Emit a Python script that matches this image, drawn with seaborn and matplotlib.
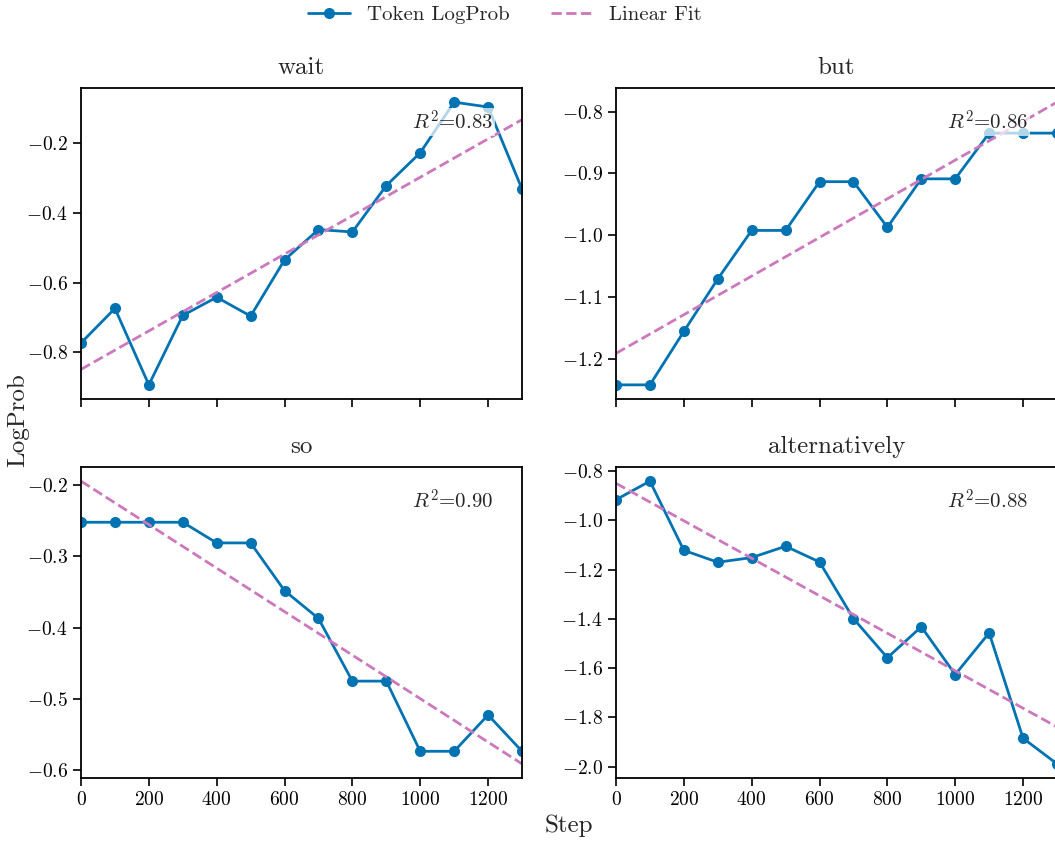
import matplotlib
matplotlib.use("Agg")
import matplotlib.pyplot as plt
import numpy as np
import pandas as pd
import seaborn as sns

STEPS = [0, 100, 200, 300, 400, 500, 600, 700, 800, 900, 1000, 1100, 1200, 1300]

WAIT = [-0.773, -0.674, -0.893, -0.694, -0.642, -0.696, -0.535, -0.448,
        -0.455, -0.322, -0.228, -0.083, -0.097, -0.332]
BUT = [-1.2425, -1.2425, -1.156, -1.071, -0.9925, -0.9925, -0.9136, -0.9136,
       -0.9875, -0.909, -0.909, -0.835, -0.835, -0.835]
SO = [-0.252, -0.252, -0.252, -0.252, -0.281, -0.281, -0.348, -0.387,
      -0.475, -0.475, -0.5735, -0.5735, -0.5225, -0.5735]
ALTERNATIVELY = [-0.916, -0.8405, -1.1216, -1.170, -1.151, -1.105, -1.169, -1.399,
                 -1.558, -1.432, -1.626, -1.457, -1.885, -1.989]

TOKENS = ["wait", "but", "so", "alternatively"]
R2_LABELS = ["0.83", "0.86", "0.90", "0.88"]

BLUE = "#0173B2"
PINK = "#CC78BC"

sns.set_theme(style="ticks")
plt.rcParams.update({
    "font.family": "serif",
    "font.serif": ["cmr10", "DejaVu Serif"],
    "mathtext.fontset": "cm",
    "axes.formatter.use_mathtext": True,
    "axes.edgecolor": "black",
    "axes.linewidth": 1.3,
    "xtick.color": "black",
    "ytick.color": "black",
    "xtick.major.size": 6,
    "ytick.major.size": 6,
    "xtick.major.width": 1.2,
    "ytick.major.width": 1.2,
    "xtick.labelsize": 14,
    "ytick.labelsize": 14,
})

fig = plt.figure(figsize=(10.55, 8.41), dpi=100)
W, H = 1055, 841
boxes = [(81, 88), (616, 88), (81, 467), (616, 467)]
axes = []
for i, (x0, y0) in enumerate(boxes):
    rect = [x0 / W, 1 - (y0 + 311) / H, 441 / W, 311 / H]
    if i == 0:
        ax = fig.add_axes(rect)
    else:
        ax = fig.add_axes(rect, sharex=axes[0])
    axes.append(ax)

series = [WAIT, BUT, SO, ALTERNATIVELY]
for ax, token, vals, r2 in zip(axes, TOKENS, series, R2_LABELS):
    df = pd.DataFrame({"step": STEPS, "logprob": vals})
    slope, intercept = np.polyfit(df["step"], df["logprob"], 1)
    df["fit"] = slope * df["step"] + intercept

    sns.lineplot(data=df, x="step", y="logprob", ax=ax, color=BLUE, marker="o",
                 markersize=8, markeredgewidth=0, linewidth=2, label="Token LogProb")
    sns.lineplot(data=df, x="step", y="fit", ax=ax, color=PINK, linestyle="--",
                 linewidth=2, label="Linear Fit")
    ax.get_legend().remove()

    ax.set_title(token, fontsize=18, pad=10)
    ax.set_xlabel("")
    ax.set_ylabel("")
    ax.set_xlim(0, 1300)
    ax.set_xticks([0, 200, 400, 600, 800, 1000, 1200])
    ax.text(0.935, 0.89, rf"$R^2$=$\mathdefault{{{r2}}}$", transform=ax.transAxes,
            ha="right", va="center", fontsize=15,
            bbox=dict(facecolor="white", edgecolor="none", alpha=0.7, pad=1.5))
    for side in ["top", "right", "left", "bottom"]:
        ax.spines[side].set_visible(True)

axes[0].set_yticks([-0.8, -0.6, -0.4, -0.2])
axes[1].set_yticks([-1.2, -1.1, -1.0, -0.9, -0.8])
axes[2].set_yticks([-0.6, -0.5, -0.4, -0.3, -0.2])
axes[3].set_yticks([-2.0, -1.8, -1.6, -1.4, -1.2, -1.0, -0.8])

for ax in axes[:2]:
    ax.tick_params(labelbottom=False)

handles, labels = axes[0].get_legend_handles_labels()
fig.legend(handles, labels, loc="upper center", bbox_to_anchor=(505 / W, 1.016),
           ncol=2, frameon=False, fontsize=15, handlelength=2.0,
           handletextpad=0.8, columnspacing=2.0)

fig.text(569 / W, 1 - 826 / H, "Step", ha="center", va="center", fontsize=18)
fig.text(18 / W, 1 - 420 / H, "LogProb", ha="center", va="center",
         rotation=90, fontsize=18)

fig.savefig("out.png", dpi=100)
